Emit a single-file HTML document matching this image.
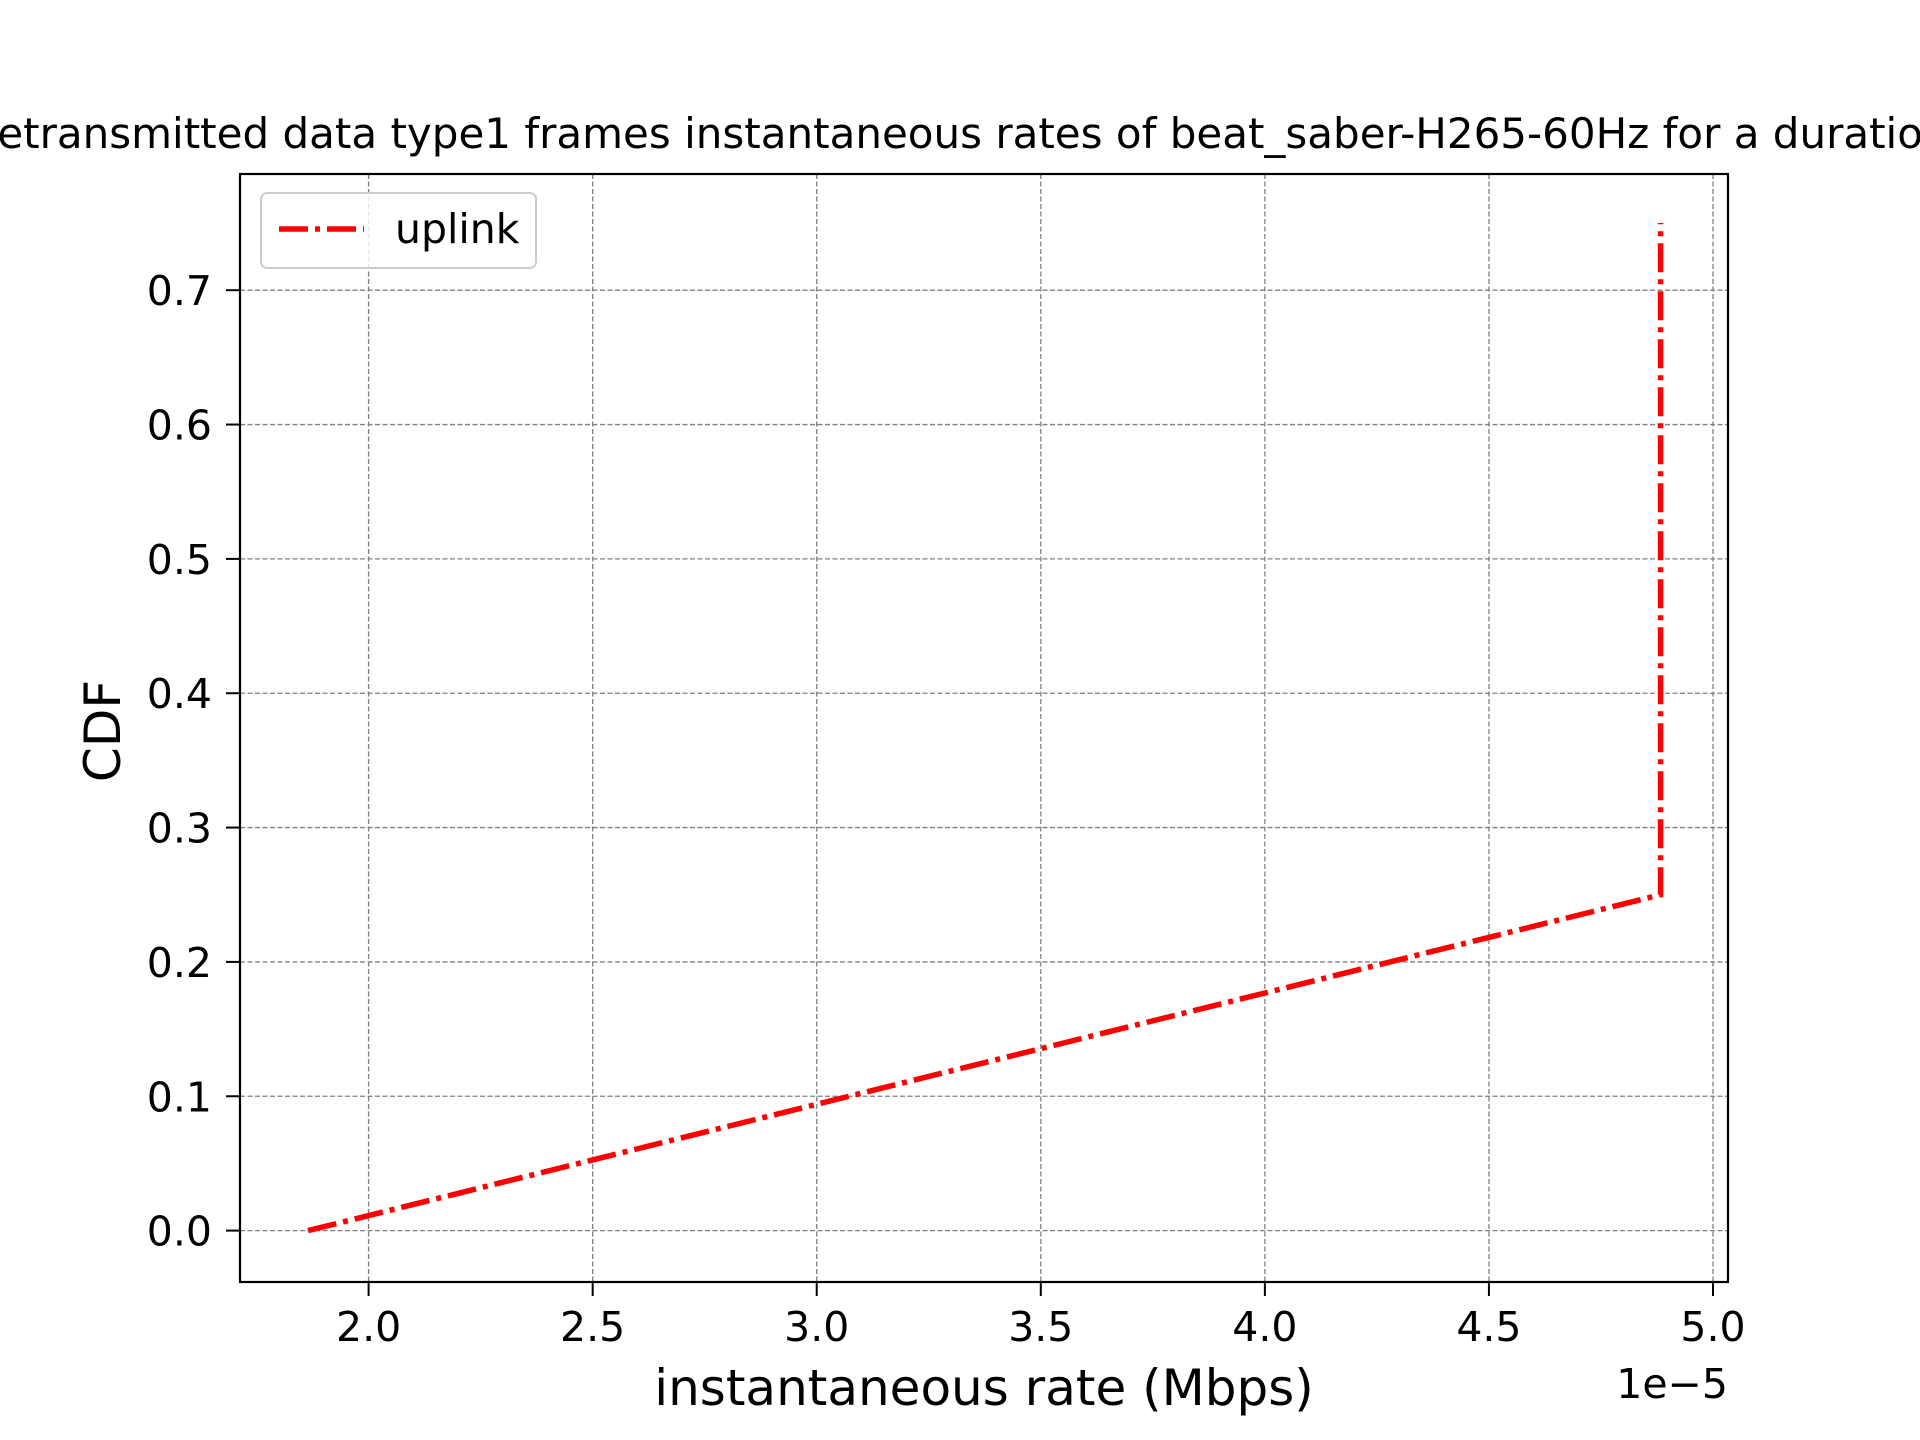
<!DOCTYPE html>
<html><head><meta charset="utf-8"><style>
html,body{margin:0;padding:0;background:#fff;}
svg{display:block;font-family:"DejaVu Sans","Liberation Sans",sans-serif;}
</style></head><body>
<svg width="1920" height="1440" viewBox="0 0 1920 1440">
<text x="960" y="148" text-anchor="middle" font-size="42" fill="#000">CDF of retransmitted data type1 frames instantaneous rates of beat_saber-H265-60Hz for a duration of 10s</text>
<g id="grid"></g>
<g id="ticks"></g>
<path id="series" fill="none" stroke="#ff0000" stroke-width="5.5" stroke-dasharray="29 7 5 7"/>
<rect x="240" y="174" width="1488" height="1108" fill="none" stroke="#000" stroke-width="2.2"/>
<g>
<rect x="261" y="193" width="275" height="75" rx="6" fill="#fff" fill-opacity="0.8" stroke="#ccc" stroke-width="2"/>
<line x1="279" y1="229" x2="364" y2="229" stroke="#ff0000" stroke-width="5.5" stroke-dasharray="29 7 5 7"/>
<text x="395" y="243" font-size="41">uplink</text>
</g>
<text x="984" y="1405" text-anchor="middle" font-size="50">instantaneous rate (Mbps)</text>
<text x="1728" y="1398" text-anchor="end" font-size="41">1e−5</text>
<text transform="translate(120,731) rotate(-90)" text-anchor="middle" font-size="50">CDF</text>
</svg>
<script>
const xTicks=[2.0,2.5,3.0,3.5,4.0,4.5,5.0];
const yTicks=[0.0,0.1,0.2,0.3,0.4,0.5,0.6,0.7];
const seriesX=[1.865,4.883,4.883];
const seriesY=[0.0,0.25,0.75];
const NS="http://www.w3.org/2000/svg";
function sx(v){return 368.6+(v-2)*(1713-368.6)/3;}
function sy(v){return 1230.6-v*(1230.6-290.2)/0.7;}
const grid=document.getElementById('grid'),ticks=document.getElementById('ticks');
function mk(tag,attrs,parent){const e=document.createElementNS(NS,tag);for(const k in attrs)e.setAttribute(k,attrs[k]);parent.appendChild(e);return e;}
xTicks.forEach(v=>{const x=sx(v);
 const g=mk('line',{x1:x,y1:174,x2:x,y2:1282,stroke:'#808080','stroke-width':1.3,'stroke-dasharray':'5 2.5'},grid);
 
 
 const t=mk('line',{x1:x,y1:1282,x2:x,y2:1296,stroke:'#000','stroke-width':2},ticks);
 
 
 const l=mk('text',{x:x,y:1341,'text-anchor':'middle','font-size':41},ticks);l.textContent=v.toFixed(1);
 
 
});
yTicks.forEach(v=>{const y=sy(v);
 const g=mk('line',{x1:240,y1:y,x2:1728,y2:y,stroke:'#808080','stroke-width':1.3,'stroke-dasharray':'5 2.5'},grid);
 
 
 const t=mk('line',{x1:226,y1:y,x2:240,y2:y,stroke:'#000','stroke-width':2},ticks);
 
 
 const l=mk('text',{x:212,y:y+15,'text-anchor':'end','font-size':41},ticks);l.textContent=v.toFixed(1);
 
 
});
document.getElementById('series').setAttribute('d',seriesX.map((v,i)=>(i?'L':'M')+sx(v)+' '+sy(seriesY[i])).join(' '));
</script>
</body></html>
